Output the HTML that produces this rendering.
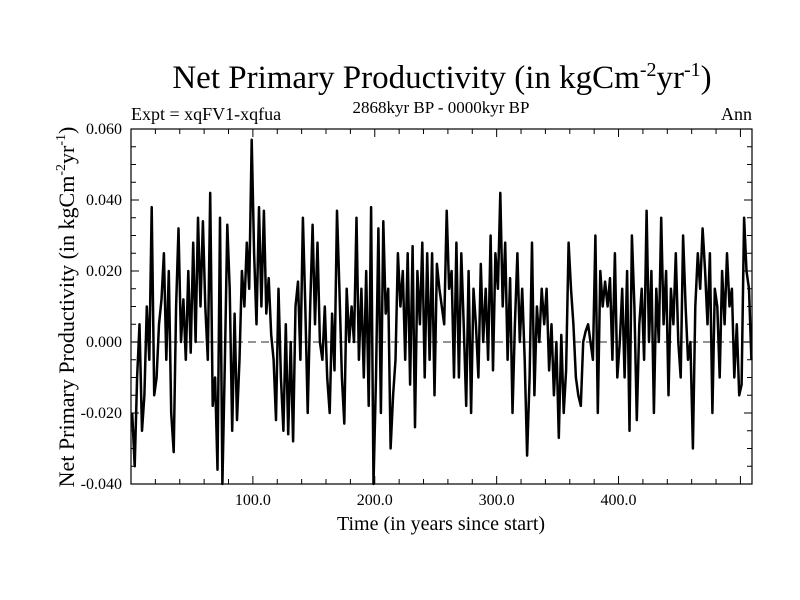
<!DOCTYPE html>
<html><head><meta charset="utf-8">
<style>
html,body{margin:0;padding:0;background:#fff;}
svg{display:block;font-family:"Liberation Serif",serif;}
</style></head>
<body>
<svg id="chart" width="800" height="600" viewBox="0 0 800 600">
  <text x="442" y="88" text-anchor="middle" font-size="33">Net Primary Productivity (in kgCm<tspan dy="-12" font-size="20">-2</tspan><tspan dy="12">yr</tspan><tspan dy="-12" font-size="20">-1</tspan><tspan dy="12">)</tspan></text>
  <text x="131" y="120" font-size="18">Expt = xqFV1-xqfua</text>
  <text x="441" y="113" text-anchor="middle" font-size="17">2868kyr BP - 0000kyr BP</text>
  <text x="752" y="120" text-anchor="end" font-size="18">Ann</text>
  <text transform="translate(74,307) rotate(-90)" text-anchor="middle" font-size="22">Net Primary Productivity (in kgCm<tspan dy="-9" font-size="14">-2</tspan><tspan dy="9">yr</tspan><tspan dy="-9" font-size="14">-1</tspan><tspan dy="9">)</tspan></text>
  <text x="441" y="530" text-anchor="middle" font-size="20">Time (in years since start)</text>
  <g id="axes"></g>
  <g id="series"></g>
</svg>
<script>
const yTicks = [0.060, 0.040, 0.020, 0.000, -0.020, -0.040];
const yTickLabels = ["0.060","0.040","0.020","0.000","-0.020","-0.040"];
const xTicks = [100, 200, 300, 400];
const xTickLabels = ["100.0","200.0","300.0","400.0"];
const yearStart = 1;
const yearStep = 2;
const npp = [
-20,-35,-10,5,-25,-15,10,-5,38,-15,
-10,5,12,25,-5,20,-20,-31,10,32,
0,12,-5,20,-3,28,0,35,10,34,
10,-5,42,-18,-10,-36,35,-40,-5,33,
15,-25,8,-22,-5,20,10,28,15,57,
25,5,38,10,37,8,18,2,-5,-22,
15,-10,-25,5,-26,0,-28,10,17,-5,
35,10,-20,10,33,5,28,0,-5,10,
-10,-20,8,-8,37,15,-10,-23,15,0,
10,0,35,-5,15,-10,20,-18,38,-40,
-10,32,-20,34,8,15,-30,-15,-5,25,
10,20,-5,25,-12,27,-24,20,5,28,
-10,25,-5,25,-15,22,15,10,5,37,
15,20,-10,28,-10,25,5,-18,20,-20,
15,5,-10,22,0,15,-5,30,-8,25,
15,42,10,28,-5,18,-20,5,25,0,
15,-5,-32,-10,28,-15,10,0,15,5,
15,-8,5,-15,0,-27,2,-20,-8,28,
15,5,-10,-15,-18,0,3,5,0,-5,
30,-20,20,10,17,10,18,-5,25,-10,
0,15,-10,20,-25,30,10,-22,5,15,
-5,37,0,20,-20,15,0,35,5,20,
-15,15,5,25,0,-10,30,10,-5,0,
-30,10,25,15,32,20,5,25,-20,15,
10,-10,20,5,25,10,15,-10,5,-15,
-12,35,20,15,-5
].map(v => v / 1000);

const L = 131, R = 752, T = 129, B = 484;
const xMin = 0, xMax = 509.5, yMin = -0.040, yMax = 0.060;
const xs = v => L + (v - xMin) / (xMax - xMin) * (R - L);
const ys = v => B - (v - yMin) / (yMax - yMin) * (B - T);
const NS = "http://www.w3.org/2000/svg";
const axes = document.getElementById('axes');
const series = document.getElementById('series');
function mk(tag, attrs, parent) {
  const e = document.createElementNS(NS, tag);
  for (const k in attrs) e.setAttribute(k, attrs[k]);
  parent.appendChild(e);
  return e;
}
const frame = mk('rect', {x: L, y: T, width: R - L, height: B - T, fill: 'none', stroke: '#000', 'stroke-width': 1.2}, axes);


const zl = mk('line', {x1: L, x2: R, y1: ys(0), y2: ys(0), stroke: '#555', 'stroke-width': 1.2, 'stroke-dasharray': '8,5'}, axes);


for (let v = yMin; v <= yMax + 1e-9; v += 0.005) {
  const y = ys(v);
  const major = Math.abs(Math.round(v * 1000) % 20) === 0;
  const len = major ? 8 : 5;
  mk('line', {x1: L, x2: L + len, y1: y, y2: y, stroke: '#000'}, axes);
  mk('line', {x1: R, x2: R - len, y1: y, y2: y, stroke: '#000'}, axes);
}
yTicks.forEach((v, i) => {
  const t = mk('text', {x: 122, y: ys(v) + 5, 'text-anchor': 'end', 'font-size': 16}, axes);
  t.textContent = yTickLabels[i];
  
  
});
for (let v = 20; v <= xMax; v += 20) {
  const x = xs(v);
  const len = (v % 100 === 0) ? 8 : 5;
  mk('line', {x1: x, x2: x, y1: B, y2: B - len, stroke: '#000'}, axes);
  mk('line', {x1: x, x2: x, y1: T, y2: T + len, stroke: '#000'}, axes);
}
xTicks.forEach((v, i) => {
  const t = mk('text', {x: xs(v), y: 505, 'text-anchor': 'middle', 'font-size': 16}, axes);
  t.textContent = xTickLabels[i];
  
  
});
const pts = npp.map((v, i) => xs(yearStart + i * yearStep).toFixed(1) + ',' + ys(Math.max(yMin, Math.min(yMax, v))).toFixed(1)).join(' ');
const line = mk('polyline', {points: pts, fill: 'none', stroke: '#000', 'stroke-width': 2.5, 'stroke-linejoin': 'round'}, series);


</script>
</body></html>
